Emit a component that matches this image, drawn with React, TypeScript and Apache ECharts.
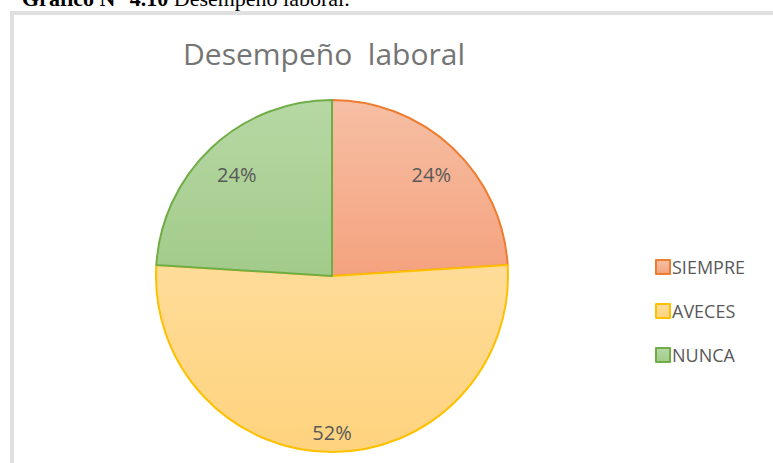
import React, { useEffect, useRef } from "react";
import * as echarts from "echarts";

const categories = ["SIEMPRE", "AVECES", "NUNCA"];
const values = [24, 52, 24];
const labels = ["24%", "52%", "24%"];
const borderColors = ["#ED7D31", "#FFC000", "#70AD47"];
const topColors = ["#F6BFA4", "#FFDC98", "#B6D8A4"];
const bottomColors = ["#F4A27E", "#FFD37E", "#A2CB8A"];

const R = 176;

export default function App() {
  const ref = useRef<HTMLDivElement>(null);
  useEffect(() => {
    if (!ref.current) return;
    const chart = echarts.init(ref.current, undefined, { renderer: "svg" });
    const grad = (i: number) =>
      new echarts.graphic.LinearGradient(0, 0, 0, 1, [
        { offset: 0, color: topColors[i] },
        { offset: 1, color: bottomColors[i] },
      ]);
    chart.setOption({
      animation: false,
      backgroundColor: "#ffffff",
      title: {
        text: "Desempeño  laboral",
        left: 319,
        textAlign: "center",
        top: 33,
        textStyle: {
          fontFamily: "Open Sans",
          fontSize: 30,
          fontWeight: "normal",
          color: "#757575",
        },
      },
      legend: {
        orient: "vertical",
        left: 650,
        top: 253,
        itemGap: 26,
        itemWidth: 14,
        itemHeight: 14,
        icon: "rect",
        data: categories,
        textStyle: {
          fontFamily: "Open Sans",
          fontSize: 18,
          color: "#595959",
          padding: [0, 0, 0, -3],
        },
      },
      graphic: [
        {
          type: "rect",
          shape: { x: 12, y: 13, width: 800, height: 500 },
          style: { fill: "none", stroke: "#E0E0E0", lineWidth: 4 },
          silent: true,
        },
        {
          type: "text",
          x: 22,
          y: -13,
          style: {
            text: "{b|Gráfico N° 4.10} Desempeño laboral.",
            fontFamily: "Liberation Serif",
            fontSize: 22,
            fill: "#000000",
            rich: {
              b: { fontFamily: "Liberation Serif", fontSize: 22, fontWeight: "bold", fill: "#000000" },
            },
          },
          silent: true,
        },
      ],
      series: [
        {
          type: "pie",
          center: [332, 276],
          radius: [0, R],
          startAngle: 90,
          clockwise: true,
          label: { show: false },
          labelLine: { show: false },
          data: categories.map((c, i) => ({
            name: c,
            value: values[i],
            itemStyle: {
              color: grad(i),
              borderColor: borderColors[i],
              borderWidth: 2,
            },
          })),
        },
        {
          type: "pie",
          center: [332, 276],
          radius: [R * 0.58, R],
          startAngle: 90,
          clockwise: true,
          silent: true,
          legendHoverLink: false,
          itemStyle: { color: "rgba(0,0,0,0)", borderWidth: 0 },
          label: {
            show: true,
            position: "inside",
            fontFamily: "Open Sans",
            fontSize: 20,
            color: "#595959",
            formatter: (p: any) => labels[p.dataIndex],
          },
          labelLine: { show: false },
          data: categories.map((c, i) => ({
            name: "lbl" + c,
            value: values[i],
            label: i === 1 ? { offset: [0, 14] } : { offset: [2, 2] },
          })),
        },
      ],
    });
    return () => chart.dispose();
  }, []);
  return (
    <div
      ref={ref}
      style={{ position: "fixed", left: 0, top: 0, width: 773, height: 463 }}
    />
  );
}
